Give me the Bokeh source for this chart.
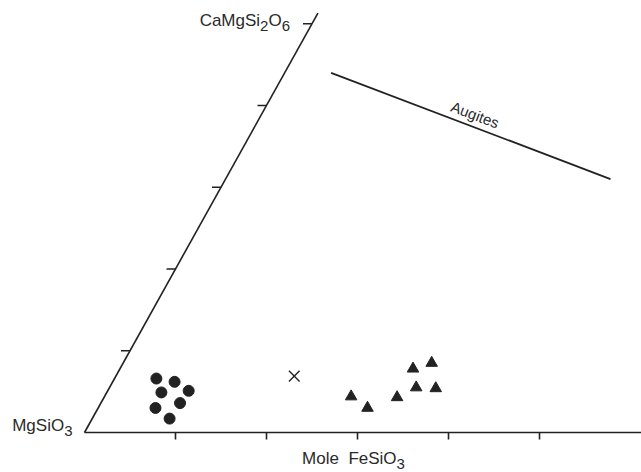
import math
from bokeh.plotting import figure
from bokeh.models import Range1d
from bokeh.embed import file_html
from bokeh.resources import INLINE
from bokeh.core.properties import value

# ---- data: pyroxene compositions, mole % (Wo = CaSiO3, Fs = FeSiO3) ----
circle_wo = [6.6, 6.2, 4.9, 5.1, 3.0, 3.6, 1.7]
circle_fs = [4.6, 6.8, 6.0, 8.9, 6.3, 8.7, 8.5]
cross_wo = [6.9]
cross_fs = [19.6]
tri_wo = [4.4, 3.0, 4.3, 7.8, 8.5, 5.5, 5.4]
tri_fs = [27.1, 29.6, 32.2, 32.2, 33.9, 33.7, 35.9]
augite_wo = [44.0, 31.0]
augite_fs = [5.1, 42.3]
tick_values = [10, 20, 30, 40, 50]
base_fs_end = 62.0
left_wo_end = 51.3

W, H = 641, 472
X0, Y0 = 84.0, 432.0      # pixel position of the MgSiO3 corner
SX, SY = 9.1, 9.44        # pixels per unit
XR = (-X0 / SX, (W - X0) / SX)
YR = (-(H - Y0) / SY, Y0 / SY)
S3 = math.sqrt(3) / 2


def tern(wo, fs):
    xs = [f + w / 2 for w, f in zip(wo, fs)]
    ys = [w * S3 for w in wo]
    return xs, ys


def to_px(x, y):
    return X0 + x * SX, Y0 - y * SY


def to_data(px, py):
    return (px - X0) / SX, (Y0 - py) / SY


INK = "#222222"
TXT = "#2a2a2a"
FONT = value("Liberation Sans")
ADV = {'C': 722, 'a': 556, 'M': 833, 'g': 556, 'S': 667, 'i': 222, 'O': 778,
       'F': 611, 'e': 556, 'o': 556, 'l': 222, ' ': 278}
MAIN, SUB, DROP = 17, 15, 5
BASE_FIX = 7   # rendered baseline sits lower than requested


def width(s, size):
    return sum(ADV.get(c, 556) for c in s) * size / 1000.0


def formula_width(parts):
    return sum(width(s, SUB if sub else MAIN) for s, sub in parts)


p = figure(width=W, height=H, x_range=Range1d(*XR), y_range=Range1d(*YR),
           output_backend="svg", toolbar_location=None, min_border=0)
p.axis.visible = False
p.grid.visible = False
p.outline_line_color = None
p.background_fill_color = "white"
p.border_fill_color = "white"


def formula(left_px, base_px, parts):
    cx = left_px
    for s, sub in parts:
        size = SUB if sub else MAIN
        by = base_px - BASE_FIX + (DROP if sub else 0)
        x, y = to_data(cx, by)
        p.text(x=[x], y=[y], text=[s], text_align="left",
               text_baseline="alphabetic", text_font=FONT,
               text_font_size=f"{size}px", text_color=TXT)
        cx += width(s, size)
    return cx


# triangle edges
bx, by = tern([0, 0], [0, base_fs_end])
p.line(bx, by, line_color=INK, line_width=1.6)
lx, ly = tern([0, left_wo_end], [0, 0])
p.line(lx, ly, line_color=INK, line_width=1.6)

# ticks along base (Fs) - short downward marks
tbx, tby = tern([0] * len(tick_values), tick_values)
p.segment(x0=tbx, y0=tby, x1=tbx, y1=[y - 7 / SY for y in tby],
          line_color=INK, line_width=1.6)
# ticks along left edge (Wo) - short leftward marks
tlx, tly = tern(tick_values, [0] * len(tick_values))
p.segment(x0=tlx, y0=tly, x1=[x - 9 / SX for x in tlx], y1=tly,
          line_color=INK, line_width=1.6)

# augite trend line
ax_, ay_ = tern(augite_wo, augite_fs)
p.line(ax_, ay_, line_color=INK, line_width=1.8)
dxp = (ax_[1] - ax_[0]) * SX
dyp = (ay_[1] - ay_[0]) * SY
ang = math.atan2(dyp, dxp)
L = math.hypot(dxp, dyp)
nx, ny = -dyp / L, dxp / L
mx = (ax_[0] + ax_[1]) / 2 + 12 * nx / SX
my = (ay_[0] + ay_[1]) / 2 + 12 * ny / SY
p.text(x=[mx], y=[my], text=["Augites"], angle=ang, text_align="center",
       text_baseline="middle", text_font=FONT, text_font_size="15px",
       text_color=TXT)

# data points
cx, cy = tern(circle_wo, circle_fs)
p.scatter(cx, cy, marker="circle", size=11, fill_color=INK, line_color=INK)
xx, xy = tern(cross_wo, cross_fs)
p.scatter(xx, xy, marker="x", size=15, line_color=INK, line_width=1.4)
tx, ty = tern(tri_wo, tri_fs)
p.scatter(tx, ty, marker="triangle", size=11.5, fill_color=INK, line_color=INK)

# end-member labels
apx, apy = to_px(*[v[0] for v in tern([50], [0])])
cam = [("CaMgSi", False), ("2", True), ("O", False), ("6", True)]
formula(apx - 22 - formula_width(cam), apy + 4, cam)

mg = [("MgSiO", False), ("3", True)]
vx, vy = to_px(0, 0)
formula(vx - 12 - formula_width(mg), vy, mg)

mole = [("Mole", False)]
fe = [("FeSiO", False), ("3", True)]
gap = 2 * width(" ", MAIN)
total = formula_width(mole) + gap + formula_width(fe)
f30x, _ = to_px(*[v[0] for v in tern([0], [30])])
end = formula(f30x - 4 - total / 2, vy + 33, mole)
formula(end + gap, vy + 33, fe)

open("out.html", "w").write(file_html(p, INLINE))
